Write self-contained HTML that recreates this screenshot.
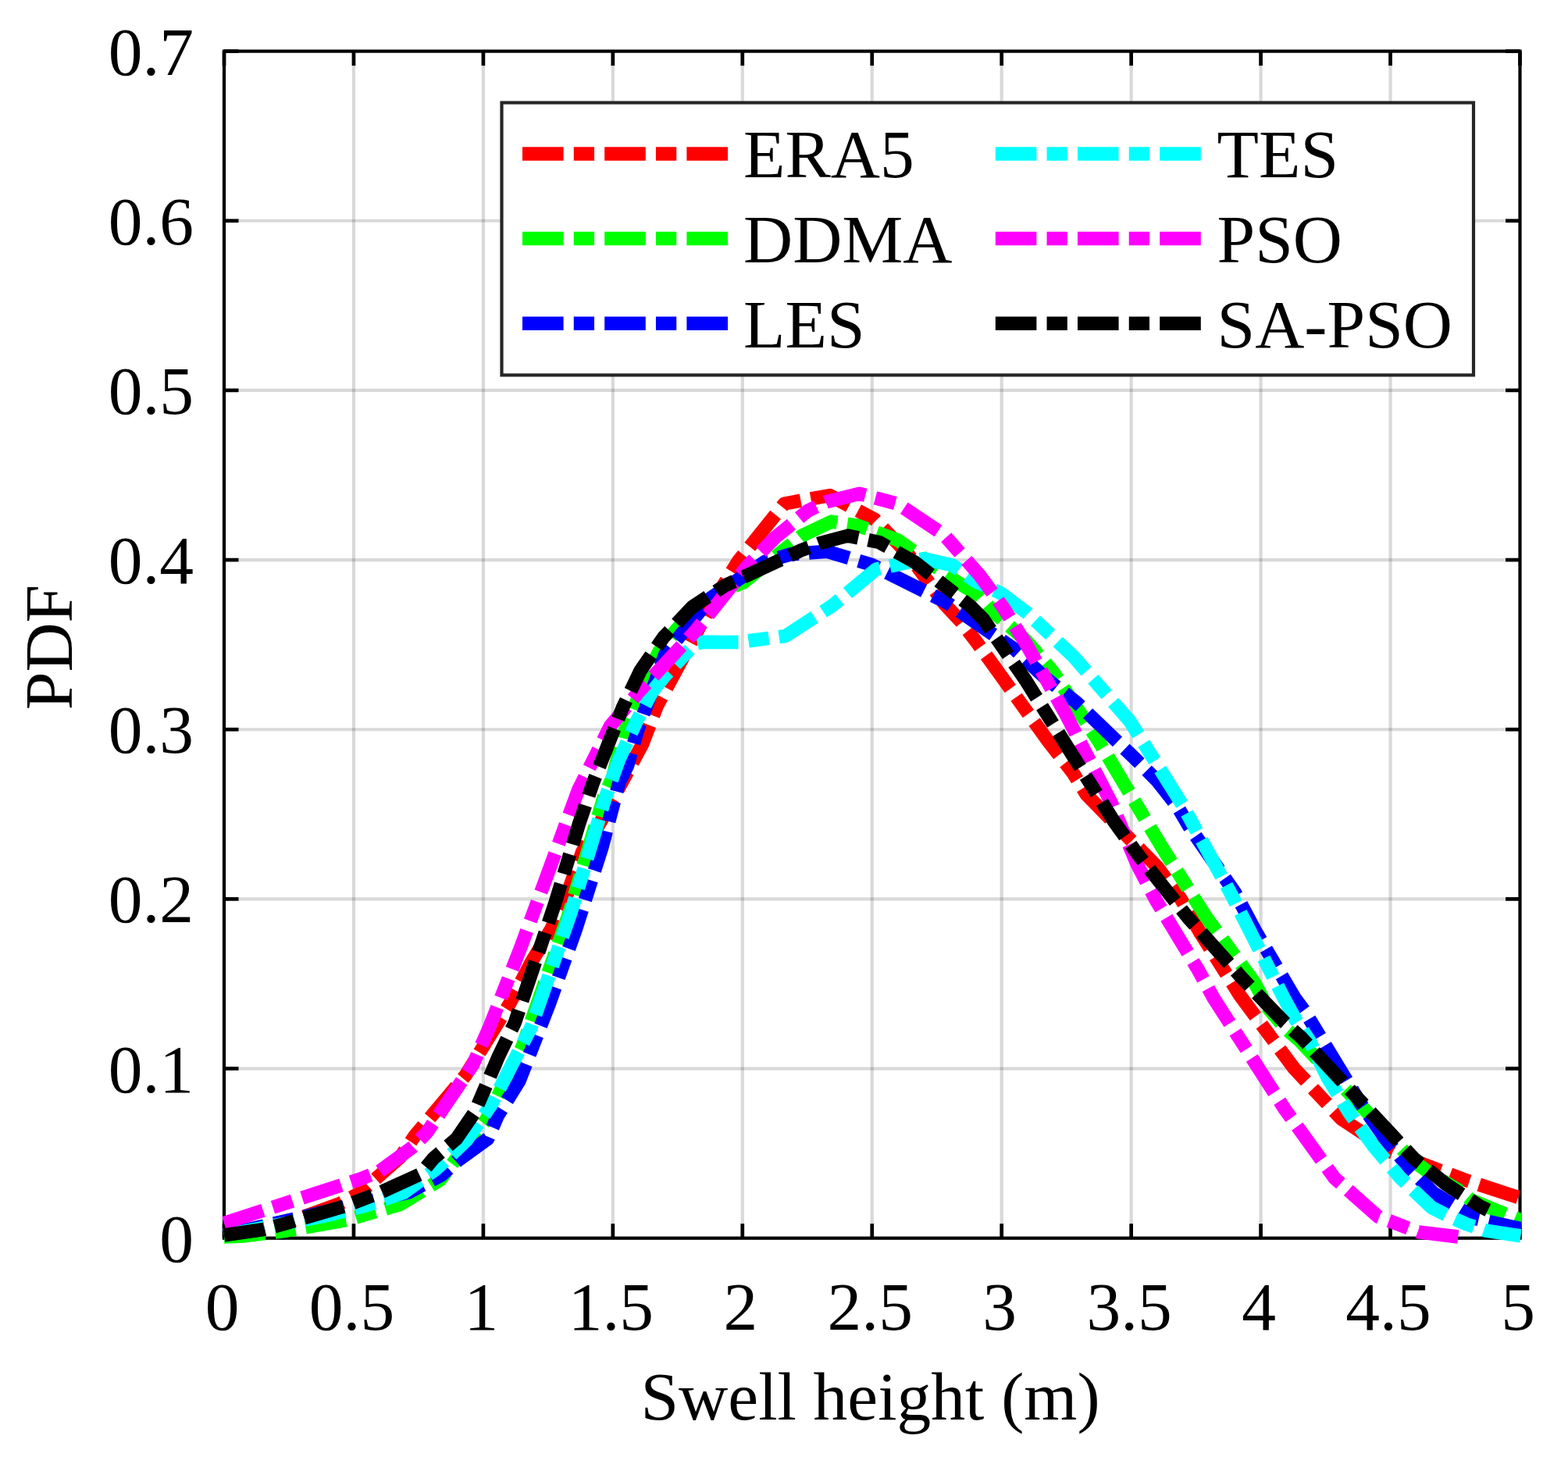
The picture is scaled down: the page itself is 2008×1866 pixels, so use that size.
<!DOCTYPE html>
<html lang="en"><head><meta charset="utf-8"><title>PDF of swell height</title>
<style>html,body{margin:0;padding:0;background:#fff;}body{width:2008px;height:1866px;overflow:hidden;}svg{display:block;}text{font-family:"Liberation Serif","Times New Roman",serif;font-size:87.5px;fill:#000;}</style></head><body>
<svg width="2008" height="1866" viewBox="0 0 2008 1866">
<rect x="0" y="0" width="2008" height="1866" fill="#ffffff"/>
<g stroke="#000" stroke-opacity="0.15" stroke-width="4.2" fill="none">
<line x1="452.95" y1="1585.70" x2="452.95" y2="65.60"/>
<line x1="618.90" y1="1585.70" x2="618.90" y2="65.60"/>
<line x1="784.85" y1="1585.70" x2="784.85" y2="65.60"/>
<line x1="950.80" y1="1585.70" x2="950.80" y2="65.60"/>
<line x1="1116.75" y1="1585.70" x2="1116.75" y2="65.60"/>
<line x1="1282.70" y1="1585.70" x2="1282.70" y2="65.60"/>
<line x1="1448.65" y1="1585.70" x2="1448.65" y2="65.60"/>
<line x1="1614.60" y1="1585.70" x2="1614.60" y2="65.60"/>
<line x1="1780.55" y1="1585.70" x2="1780.55" y2="65.60"/>
<line x1="287.00" y1="1368.54" x2="1946.50" y2="1368.54"/>
<line x1="287.00" y1="1151.39" x2="1946.50" y2="1151.39"/>
<line x1="287.00" y1="934.23" x2="1946.50" y2="934.23"/>
<line x1="287.00" y1="717.07" x2="1946.50" y2="717.07"/>
<line x1="287.00" y1="499.91" x2="1946.50" y2="499.91"/>
<line x1="287.00" y1="282.76" x2="1946.50" y2="282.76"/>
</g>
<g stroke="#000" stroke-width="4.2" fill="none">
<rect x="287.00" y="65.60" width="1659.50" height="1520.10"/>
</g>
<g stroke="#000" stroke-width="4.7" fill="none">
<line x1="287.00" y1="1585.70" x2="287.00" y2="1567.20"/>
<line x1="287.00" y1="65.60" x2="287.00" y2="84.10"/>
<line x1="452.95" y1="1585.70" x2="452.95" y2="1567.20"/>
<line x1="452.95" y1="65.60" x2="452.95" y2="84.10"/>
<line x1="618.90" y1="1585.70" x2="618.90" y2="1567.20"/>
<line x1="618.90" y1="65.60" x2="618.90" y2="84.10"/>
<line x1="784.85" y1="1585.70" x2="784.85" y2="1567.20"/>
<line x1="784.85" y1="65.60" x2="784.85" y2="84.10"/>
<line x1="950.80" y1="1585.70" x2="950.80" y2="1567.20"/>
<line x1="950.80" y1="65.60" x2="950.80" y2="84.10"/>
<line x1="1116.75" y1="1585.70" x2="1116.75" y2="1567.20"/>
<line x1="1116.75" y1="65.60" x2="1116.75" y2="84.10"/>
<line x1="1282.70" y1="1585.70" x2="1282.70" y2="1567.20"/>
<line x1="1282.70" y1="65.60" x2="1282.70" y2="84.10"/>
<line x1="1448.65" y1="1585.70" x2="1448.65" y2="1567.20"/>
<line x1="1448.65" y1="65.60" x2="1448.65" y2="84.10"/>
<line x1="1614.60" y1="1585.70" x2="1614.60" y2="1567.20"/>
<line x1="1614.60" y1="65.60" x2="1614.60" y2="84.10"/>
<line x1="1780.55" y1="1585.70" x2="1780.55" y2="1567.20"/>
<line x1="1780.55" y1="65.60" x2="1780.55" y2="84.10"/>
<line x1="1946.50" y1="1585.70" x2="1946.50" y2="1567.20"/>
<line x1="1946.50" y1="65.60" x2="1946.50" y2="84.10"/>
<line x1="287.00" y1="1585.70" x2="305.50" y2="1585.70"/>
<line x1="1946.50" y1="1585.70" x2="1928.00" y2="1585.70"/>
<line x1="287.00" y1="1368.54" x2="305.50" y2="1368.54"/>
<line x1="1946.50" y1="1368.54" x2="1928.00" y2="1368.54"/>
<line x1="287.00" y1="1151.39" x2="305.50" y2="1151.39"/>
<line x1="1946.50" y1="1151.39" x2="1928.00" y2="1151.39"/>
<line x1="287.00" y1="934.23" x2="305.50" y2="934.23"/>
<line x1="1946.50" y1="934.23" x2="1928.00" y2="934.23"/>
<line x1="287.00" y1="717.07" x2="305.50" y2="717.07"/>
<line x1="1946.50" y1="717.07" x2="1928.00" y2="717.07"/>
<line x1="287.00" y1="499.91" x2="305.50" y2="499.91"/>
<line x1="1946.50" y1="499.91" x2="1928.00" y2="499.91"/>
<line x1="287.00" y1="282.76" x2="305.50" y2="282.76"/>
<line x1="1946.50" y1="282.76" x2="1928.00" y2="282.76"/>
<line x1="287.00" y1="65.60" x2="305.50" y2="65.60"/>
<line x1="1946.50" y1="65.60" x2="1928.00" y2="65.60"/>
</g>
<defs><clipPath id="c"><rect x="284.90" y="63.50" width="1663.70" height="1534.10"/></clipPath></defs>
<g clip-path="url(#c)" fill="none" stroke-width="17.5" stroke-dasharray="52.6 13.15 26.3 13.15" stroke-linejoin="round">
<polyline stroke="#ff0000" points="286.9,1582.0 365.0,1567.0 434.7,1541.8 460.0,1528.5 512.8,1481.6 530.8,1455.2 596.2,1377.1 652.9,1285.0 680.4,1232.3 705.7,1190.0 726.8,1143.6 745.8,1090.8 769.0,1052.8 822.5,953.4 841.5,903.8 913.0,771.0 945.2,719.0 1004.5,645.0 1062.6,634.5 1120.5,665.5 1163.9,711.0 1210.0,774.0 1229.6,795.0 1249.6,820.8 1341.5,948.1 1374.5,990.5 1391.7,1018.0 1482.5,1110.9 1512.0,1151.0 1537.4,1195.4 1588.0,1275.0 1657.2,1368.2 1717.4,1432.6 1782.8,1475.9 1874.7,1510.7 1948.6,1535.0"/>
<polyline stroke="#00ff00" points="286.9,1584.0 312.2,1582.9 366.5,1576.2 444.2,1562.5 512.8,1542.4 563.5,1511.1 622.6,1434.1 669.1,1340.1 729.0,1168.9 773.3,1021.1 784.5,995.6 799.2,938.6 828.8,864.7 843.6,835.1 866.8,805.6 890.0,782.3 925.0,757.0 952.0,745.8 1026.7,686.1 1064.7,668.1 1099.5,673.4 1149.2,691.4 1225.0,745.0 1254.9,763.3 1273.5,785.0 1314.0,820.4 1347.8,859.4 1406.9,949.2 1487.7,1084.5 1543.7,1173.2 1606.0,1257.7 1624.0,1291.0 1645.0,1316.0 1664.6,1333.0 1808.2,1485.4 1829.3,1501.2 1871.5,1526.6 1883.1,1536.5 1955.0,1566.0"/>
<polyline stroke="#0000ff" points="286.9,1582.0 523.4,1527.0 565.6,1504.8 586.7,1485.8 624.7,1458.4 637.4,1428.8 664.9,1384.5 703.6,1285.0 737.4,1190.0 771.1,1084.5 792.9,1001.9 803.5,980.8 816.1,936.5 852.0,837.2 910.0,766.0 979.5,719.4 1012.0,710.0 1058.7,706.2 1115.7,723.1 1212.6,771.7 1300.0,832.0 1338.3,867.9 1378.4,899.5 1454.4,972.4 1482.0,1000.0 1507.8,1032.8 1522.6,1058.1 1581.7,1143.6 1607.0,1191.1 1658.0,1278.0 1670.9,1295.3 1742.7,1413.6 1772.3,1455.8 1806.1,1498.0 1835.6,1527.6 1888.4,1560.3 1948.6,1574.0"/>
<polyline stroke="#00ffff" points="286.9,1582.0 417.8,1556.7 468.5,1544.0 517.0,1527.5 559.3,1496.4 597.3,1460.5 629.0,1415.1 680.0,1316.0 731.0,1168.9 775.4,1021.1 792.9,972.4 815.1,923.8 835.1,885.8 852.0,864.7 890.0,824.6 900.0,822.3 946.2,822.4 1005.9,814.5 1065.5,775.9 1122.0,729.0 1182.9,715.6 1220.0,724.0 1248.5,744.2 1282.0,760.0 1316.0,785.5 1375.3,841.5 1447.0,923.8 1514.1,1030.7 1577.5,1146.8 1644.0,1278.0 1660.4,1308.0 1677.2,1333.3 1700.5,1380.9 1727.9,1425.2 1759.6,1468.5 1793.4,1508.6 1833.5,1546.6 1854.6,1557.2 1877.8,1567.7 1903.2,1576.2 1947.5,1582.9"/>
<polyline stroke="#ff00ff" points="286.9,1566.5 461.1,1510.1 485.4,1500.6 528.7,1468.9 546.6,1450.3 605.7,1363.3 627.0,1315.0 667.7,1211.1 740.5,1012.0 781.3,930.2 818.2,885.8 890.0,808.7 957.0,725.2 992.9,688.2 1034.1,654.4 1058.4,642.8 1100.6,632.2 1150.0,645.5 1209.0,685.0 1254.8,737.0 1285.0,778.5 1314.0,824.6 1365.8,916.4 1423.3,1028.6 1456.1,1106.7 1480.4,1153.1 1534.2,1241.8 1554.0,1278.0 1645.6,1421.0 1708.9,1508.6 1764.9,1558.2 1816.6,1577.9 1867.3,1584.0"/>
<polyline stroke="#000000" points="286.9,1581.9 337.6,1574.5 365.0,1567.1 441.0,1544.9 487.5,1527.0 538.2,1503.8 555.0,1483.7 584.6,1458.4 607.8,1424.6 638.5,1352.8 659.2,1310.0 711.0,1156.3 741.6,1054.9 760.0,1001.0 797.1,906.9 820.4,858.4 849.9,816.1 886.9,777.1 928.2,750.0 1025.0,705.2 1049.9,695.6 1085.8,686.1 1125.9,694.5 1171.3,719.9 1242.1,775.8 1259.0,792.7 1314.0,872.1 1426.5,1051.8 1456.1,1093.0 1521.5,1175.3 1591.2,1253.4 1645.6,1310.1 1666.7,1329.1 1810.3,1483.3 1852.5,1517.1 1894.7,1544.5 1909.5,1551.9"/>
</g>
<g text-anchor="middle">
<text x="284.50" y="1703.00">0</text>
<text x="450.45" y="1703.00">0.5</text>
<text x="616.40" y="1703.00">1</text>
<text x="782.35" y="1703.00">1.5</text>
<text x="948.30" y="1703.00">2</text>
<text x="1114.25" y="1703.00">2.5</text>
<text x="1280.20" y="1703.00">3</text>
<text x="1446.15" y="1703.00">3.5</text>
<text x="1612.10" y="1703.00">4</text>
<text x="1778.05" y="1703.00">4.5</text>
<text x="1944.00" y="1703.00">5</text>
</g>
<g text-anchor="end">
<text x="248.00" y="1615.70">0</text>
<text x="248.00" y="1398.54">0.1</text>
<text x="248.00" y="1181.39">0.2</text>
<text x="248.00" y="964.23">0.3</text>
<text x="248.00" y="747.07">0.4</text>
<text x="248.00" y="529.91">0.5</text>
<text x="248.00" y="312.76">0.6</text>
<text x="248.00" y="95.60">0.7</text>
</g>
<text x="1114.50" y="1818.00" text-anchor="middle">Swell height (m)</text>
<text transform="translate(92.00,829.00) rotate(-90)" text-anchor="middle">PDF</text>
<rect x="642.50" y="131.50" width="1244.50" height="348.90" fill="#fff" stroke="#262626" stroke-width="4.2"/>
<line x1="669.00" y1="197.00" x2="932.40" y2="197.00" stroke="#ff0000" stroke-width="17.5" stroke-dasharray="52.6 13.15 26.3 13.15"/>
<text x="952.00" y="227.30">ERA5</text>
<line x1="669.00" y1="305.60" x2="932.40" y2="305.60" stroke="#00ff00" stroke-width="17.5" stroke-dasharray="52.6 13.15 26.3 13.15"/>
<text x="952.00" y="335.90">DDMA</text>
<line x1="669.00" y1="414.20" x2="932.40" y2="414.20" stroke="#0000ff" stroke-width="17.5" stroke-dasharray="52.6 13.15 26.3 13.15"/>
<text x="952.00" y="444.50">LES</text>
<line x1="1274.80" y1="197.00" x2="1538.20" y2="197.00" stroke="#00ffff" stroke-width="17.5" stroke-dasharray="52.6 13.15 26.3 13.15"/>
<text x="1558.50" y="227.30">TES</text>
<line x1="1274.80" y1="305.60" x2="1538.20" y2="305.60" stroke="#ff00ff" stroke-width="17.5" stroke-dasharray="52.6 13.15 26.3 13.15"/>
<text x="1558.50" y="335.90">PSO</text>
<line x1="1274.80" y1="414.20" x2="1538.20" y2="414.20" stroke="#000000" stroke-width="17.5" stroke-dasharray="52.6 13.15 26.3 13.15"/>
<text x="1558.50" y="444.50">SA-PSO</text>
</svg></body></html>
